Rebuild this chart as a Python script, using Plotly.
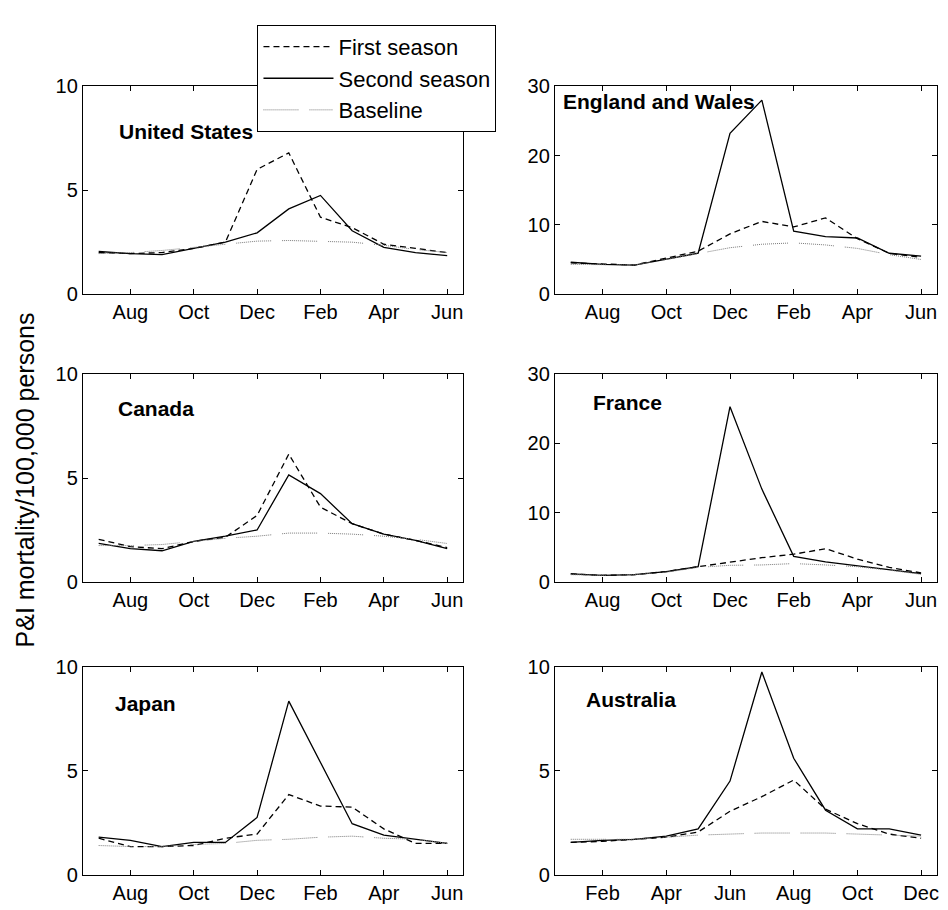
import plotly.graph_objects as go

# ---------------- data ----------------
months_nh = ["Jul", "Aug", "Sep", "Oct", "Nov", "Dec", "Jan", "Feb", "Mar", "Apr", "May", "Jun"]
months_sh = ["Jan", "Feb", "Mar", "Apr", "May", "Jun", "Jul", "Aug", "Sep", "Oct", "Nov", "Dec"]
ticks_nh = ["Aug", "Oct", "Dec", "Feb", "Apr", "Jun"]
ticks_sh = ["Feb", "Apr", "Jun", "Aug", "Oct", "Dec"]

countries = ["United States", "England and Wales", "Canada", "France", "Japan", "Australia"]

us_first = [2.0, 1.95, 2.0, 2.2, 2.5, 6.0, 6.8, 3.7, 3.2, 2.4, 2.2, 2.0]
us_second = [2.05, 1.95, 1.9, 2.2, 2.5, 2.95, 4.1, 4.75, 3.05, 2.25, 2.0, 1.85]
us_base = [1.95, 2.0, 2.1, 2.25, 2.4, 2.55, 2.58, 2.55, 2.5, 2.35, 2.15, 2.0]

ew_first = [4.5, 4.3, 4.2, 5.2, 6.2, 8.7, 10.5, 9.7, 11.0, 8.0, 5.9, 5.3]
ew_second = [4.6, 4.3, 4.2, 5.1, 5.9, 23.2, 28.0, 9.1, 8.3, 8.1, 5.9, 5.5]
ew_base = [4.3, 4.2, 4.2, 5.0, 5.8, 6.7, 7.2, 7.4, 7.1, 6.6, 5.7, 5.0]

ca_first = [2.05, 1.7, 1.6, 1.95, 2.15, 3.2, 6.15, 3.6, 2.8, 2.3, 2.0, 1.65]
ca_second = [1.85, 1.6, 1.5, 1.95, 2.2, 2.5, 5.15, 4.25, 2.8, 2.3, 2.0, 1.6]
ca_base = [1.75, 1.75, 1.8, 1.95, 2.1, 2.2, 2.35, 2.35, 2.3, 2.2, 2.05, 1.85]

fr_first = [1.15, 0.95, 1.05, 1.5, 2.2, 2.9, 3.5, 4.0, 4.8, 3.3, 2.1, 1.3]
fr_second = [1.15, 0.95, 1.05, 1.5, 2.2, 25.3, 13.4, 3.7, 2.9, 2.3, 1.7, 1.2]
fr_base = [1.05, 0.95, 1.05, 1.4, 2.1, 2.4, 2.45, 2.65, 2.45, 2.2, 1.7, 1.1]

jp_first = [1.75, 1.35, 1.35, 1.4, 1.75, 1.95, 3.85, 3.3, 3.25, 2.2, 1.5, 1.5]
jp_second = [1.8, 1.65, 1.35, 1.55, 1.55, 2.75, 8.35, 5.4, 2.45, 1.9, 1.7, 1.5]
jp_base = [1.4, 1.35, 1.35, 1.45, 1.5, 1.65, 1.7, 1.8, 1.85, 1.75, 1.7, 1.5]

au_first = [1.55, 1.6, 1.7, 1.8, 2.05, 3.05, 3.75, 4.55, 3.15, 2.45, 1.95, 1.75]
au_second = [1.55, 1.65, 1.7, 1.85, 2.2, 4.5, 9.75, 5.6, 3.1, 2.2, 2.2, 1.9]
au_base = [1.7, 1.7, 1.7, 1.8, 1.9, 1.95, 2.0, 2.0, 2.0, 1.95, 1.9, 1.85]

series_names = ["First season", "Second season", "Baseline"]
y_title = "P&I mortality/100,000 persons"

# ---------------- layout helpers ----------------
OFF = 8                      # default page margin of the HTML body
W, H = 948 - OFF, 910 - OFF
FONT = "Liberation Sans, Arial, Helvetica, sans-serif"

def px_x(p):
    return (p - OFF) / W

def px_y(p):
    return 1 - (p - OFF) / H

col_x = [(83, 464), (556, 939)]
row_y = [(77, 290), (372, 585), (672, 885)]

panels = [
    (countries[0], months_nh, ticks_nh, [us_first, us_second, us_base], 10, (117, 123)),
    (countries[1], months_nh, ticks_nh, [ew_first, ew_second, ew_base], 30, (562, 93)),
    (countries[2], months_nh, ticks_nh, [ca_first, ca_second, ca_base], 10, (116, 407)),
    (countries[3], months_nh, ticks_nh, [fr_first, fr_second, fr_base], 30, (592, 401)),
    (countries[4], months_nh, ticks_nh, [jp_first, jp_second, jp_base], 10, (113, 710)),
    (countries[5], months_sh, ticks_sh, [au_first, au_second, au_base], 10, (585, 706)),
]

dotted = ",".join(["1px"] * 35 + ["11px"])
styles = [
    dict(color="black", width=1.3, dash="6px,4px"),
    dict(color="black", width=1.3),
    dict(color="#7a7a7a", width=1.0, dash=dotted),
]

fig = go.Figure()
layout = dict(
    width=W, height=H,
    margin=dict(l=0, r=0, t=0, b=0),
    paper_bgcolor="white", plot_bgcolor="white",
    font=dict(family=FONT, size=20, color="black"),
    showlegend=True,
    legend=dict(
        x=px_x(258), y=px_y(14), xanchor="left", yanchor="top",
        bgcolor="white", bordercolor="black", borderwidth=1,
        font=dict(family=FONT, size=22, color="black"),
        itemwidth=70, tracegroupgap=0,
    ),
    annotations=[],
)

for i, (name, months, ticks, data, ymax, (lx, ly)) in enumerate(panels):
    r, c = divmod(i, 2)
    ax = "" if i == 0 else str(i + 1)
    for k in range(3):
        fig.add_trace(go.Scatter(
            x=months, y=data[k], mode="lines",
            line=styles[k], name=series_names[k],
            legendgroup=series_names[k], showlegend=(i == 0),
            xaxis="x" + ax, yaxis="y" + ax,
        ))
    yt = [0, 5, 10] if ymax == 10 else [0, 10, 20, 30]
    layout["xaxis" + ax] = dict(
        domain=[px_x(col_x[c][0]), px_x(col_x[c][1])],
        anchor="y" + ax, type="category", categoryorder="array", categoryarray=months,
        range=[-0.5, 11.5], tickmode="array", tickvals=ticks, ticktext=ticks,
        showline=True, linecolor="black", linewidth=1, mirror="ticks",
        ticks="inside", ticklen=5, tickcolor="black", tickwidth=1,
        showgrid=False, zeroline=False, tickfont=dict(size=20, family=FONT),
    )
    layout["yaxis" + ax] = dict(
        domain=[px_y(row_y[r][1]), px_y(row_y[r][0])],
        anchor="x" + ax, range=[0, ymax], tickmode="array", tickvals=yt,
        showline=True, linecolor="black", linewidth=1, mirror="ticks",
        ticks="inside", ticklen=5, tickcolor="black", tickwidth=1,
        showgrid=False, zeroline=False, tickfont=dict(size=20, family=FONT),
    )
    layout["annotations"].append(dict(
        text="<b>" + name + "</b>", xref="paper", yref="paper",
        x=px_x(lx), y=px_y(ly), xanchor="left", yanchor="middle",
        showarrow=False, font=dict(family=FONT, size=21, color="black"),
    ))

layout["annotations"].append(dict(
    text=y_title, xref="paper", yref="paper",
    x=px_x(26), y=px_y(480), xanchor="center", yanchor="middle",
    textangle=-90, showarrow=False, font=dict(family=FONT, size=25, color="black"),
))

fig.update_layout(**layout)
fig.write_html("out.html")
